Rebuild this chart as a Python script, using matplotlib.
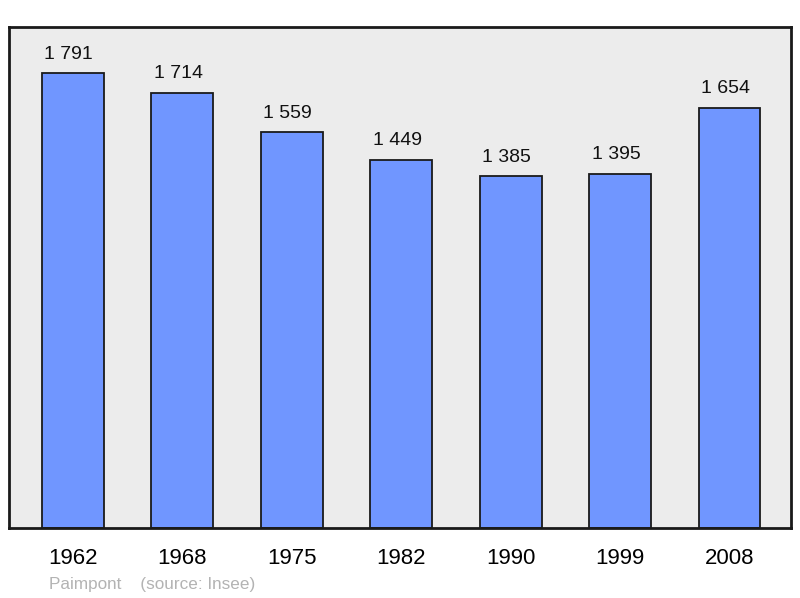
import matplotlib.pyplot as plt

# population data
years = ["1962", "1968", "1975", "1982", "1990", "1999", "2008"]
population = [1791, 1714, 1559, 1449, 1385, 1395, 1654]
labels = ["1 791", "1 714", "1 559", "1 449", "1 385", "1 395", "1 654"]

plt.rcParams['font.family'] = ['Liberation Sans', 'DejaVu Sans']

fig = plt.figure(figsize=(8, 5.98), dpi=100)
ax = fig.add_axes([9 / 800, 1 - 528 / 598, 782 / 800, 501 / 598])
ax.set_facecolor('#ececec')

x = list(range(len(years)))
ax.bar(x, population, width=0.566, color='#7096ff', edgecolor='#1a1a1a',
       linewidth=1.3, zorder=2)

for xi, v, lab in zip(x, population, labels):
    ax.annotate(lab, (xi, v), xytext=(-3, 7.5), textcoords='offset points',
                ha='center', va='bottom', fontsize=14, color='#111111')

ax.set_xlim(-0.584, 6.562)
ax.set_ylim(0, 1972)
ax.set_xticks(x)
ax.set_xticklabels(years, fontsize=16)
ax.tick_params(axis='x', length=0, pad=14.5)
ax.set_yticks([])
for s in ax.spines.values():
    s.set_linewidth(2)
    s.set_color('#1a1a1a')

fig.text(49 / 800, 1 - 584 / 598, "Paimpont    (source: Insee)", fontsize=12.3,
         color='#b3b3b3', va='center', ha='left')

fig.savefig('out.png', dpi=100, facecolor='white')
